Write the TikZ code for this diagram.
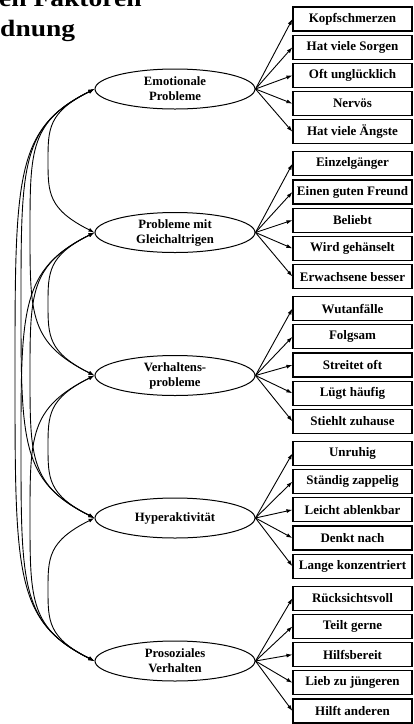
\documentclass[tikz,border=0pt]{standalone}
\usepackage{fontspec}
\setmainfont{Liberation Serif}
\usetikzlibrary{shapes.geometric,arrows.meta,calc}
\newcommand\covpath[4]{%
 \draw[covline] let \p1=(#1.west), \p2=(#2.west), \n1={0.5*(\y1+\y2)}, \n2={0.5*(\x1-#3pt)} in
 (\p1) .. controls (#3pt,\y1-\n2) and (#3pt,\y1-#4pt) .. (#3pt,\n1)
 .. controls (#3pt,\y2+#4pt) and (#3pt,\y2+\n2) .. (\p2);}
\begin{document}
\begin{tikzpicture}[x=1pt,y=-1pt,
 lat/.style={ellipse, draw, line width=1pt, minimum width=160pt, minimum height=40pt, inner sep=0pt, align=center, font=\fontsize{12.7}{15}\selectfont\bfseries},
 ind/.style={rectangle, draw, line width=1.1pt, minimum width=119pt, minimum height=24pt, inner sep=0pt, font=\fontsize{13}{15}\selectfont\bfseries},
 load/.style={-{Latex[length=6pt,width=4pt]}, line width=0.9pt},
 covline/.style={{Latex[length=6pt,width=4pt]}-{Latex[length=6pt,width=4pt]}, line width=0.9pt},
 ttl/.style={anchor=base west, inner sep=0pt, xscale=1.17, font=\fontsize{23.5}{28}\selectfont\bfseries}]
\useasboundingbox (0,0) rectangle (414,724);
\clip (0,0) rectangle (414,724);
% title (cut off)
\node[ttl] (t1) at (-1,6.5) {en Faktoren};
\node[ttl] (t2) at (0,36) {dnung};
% latent variables
\node[lat] (e1) at (175,89) {Emotionale\\Probleme};
\node[lat] (e2) at (175,232.5) {Probleme mit\\Gleichaltrigen};
\node[lat] (e3) at (175,375.5) {Verhaltens-\\probleme};
\node[lat] (e4) at (175,518) {Hyperaktivität};
\node[lat] (e5) at (175,661) {Prosoziales\\Verhalten};
% indicators
\node[ind] (b11) at (352.5,19) {Kopfschmerzen};
\node[ind] (b12) at (352.5,47.2) {Hat viele Sorgen};
\node[ind] (b13) at (352.5,75.4) {Oft unglücklich};
\node[ind] (b14) at (352.5,103.6) {Nervös};
\node[ind] (b15) at (352.5,131.8) {Hat viele Ängste};
\node[ind] (b21) at (352.5,163.8) {Einzelgänger};
\node[ind] (b22) at (352.5,192) {Einen guten Freund};
\node[ind] (b23) at (352.5,220.2) {Beliebt};
\node[ind] (b24) at (352.5,248.4) {Wird gehänselt};
\node[ind] (b25) at (352.5,276.6) {Erwachsene besser};
\node[ind] (b31) at (352.5,308.6) {Wutanfälle};
\node[ind] (b32) at (352.5,336.8) {Folgsam};
\node[ind] (b33) at (352.5,365) {Streitet oft};
\node[ind] (b34) at (352.5,393.2) {Lügt häufig};
\node[ind] (b35) at (352.5,421.4) {Stiehlt zuhause};
\node[ind] (b41) at (352.5,453.4) {Unruhig};
\node[ind] (b42) at (352.5,481.6) {Ständig zappelig};
\node[ind] (b43) at (352.5,509.8) {Leicht ablenkbar};
\node[ind] (b44) at (352.5,538) {Denkt nach};
\node[ind] (b45) at (352.5,566.2) {Lange konzentriert};
\node[ind] (b51) at (352.5,598.2) {Rücksichtsvoll};
\node[ind] (b52) at (352.5,626.4) {Teilt gerne};
\node[ind] (b53) at (352.5,654.6) {Hilfsbereit};
\node[ind] (b54) at (352.5,682.8) {Lieb zu jüngeren};
\node[ind] (b55) at (352.5,711) {Hilft anderen};
% loadings
\foreach \g in {1,...,5}{
  \foreach \i in {1,...,5}{
    \draw[load] (e\g.east) -- (b\g\i.west);
  }
}
% covariances
\covpath{e1}{e2}{48}{40}
\covpath{e2}{e3}{48}{40}
\covpath{e3}{e4}{48}{40}
\covpath{e4}{e5}{48}{40}
\covpath{e1}{e3}{30}{60}
\covpath{e2}{e4}{30}{60}
\covpath{e3}{e5}{30}{60}
\covpath{e1}{e4}{21}{75}
\covpath{e2}{e5}{21}{75}
\covpath{e1}{e5}{15}{86}
\end{tikzpicture}
\end{document}
